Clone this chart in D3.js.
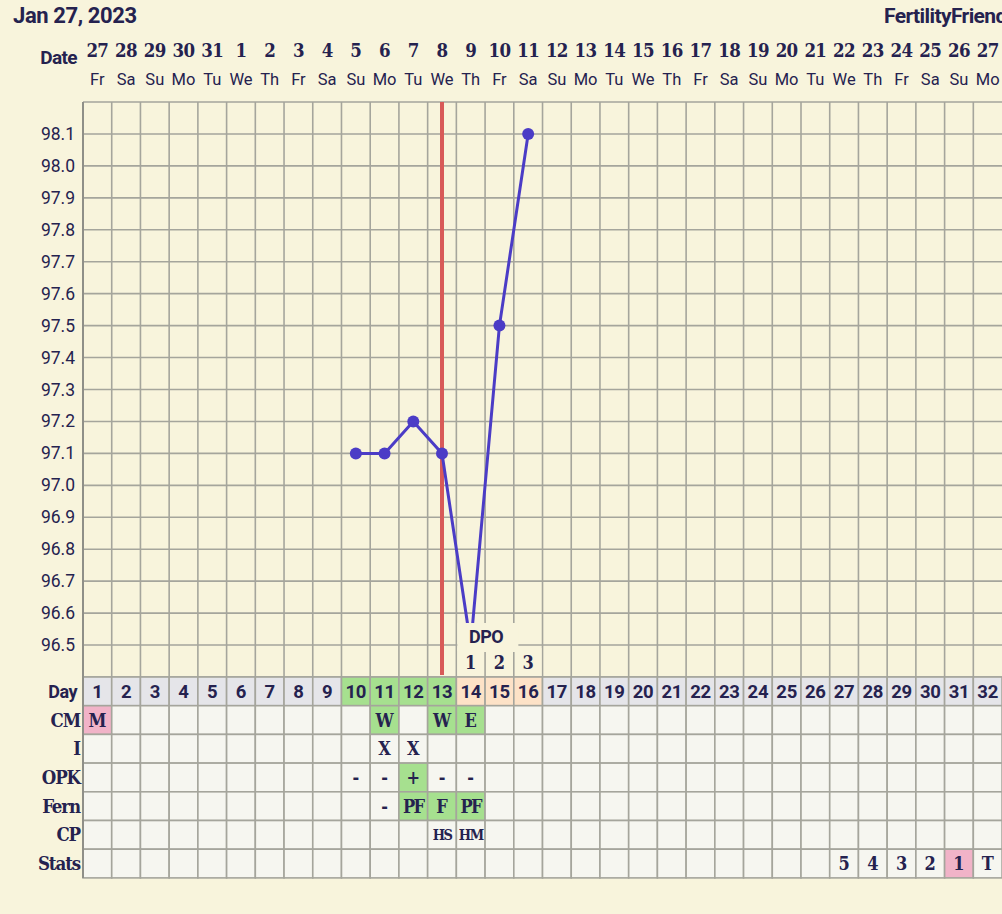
<!DOCTYPE html>
<html>
<head>
<meta charset="utf-8">
<script src="https://cdn.jsdelivr.net/npm/d3@7"></script>
<style>
  html, body { margin: 0; padding: 0; background: #f8f4dc; }
  svg { display: block; }
</style>
</head>
<body>
<svg id="chart" width="1002" height="914"></svg>
<script>
// chart data
const dateNums = [27,28,29,30,31,1,2,3,4,5,6,7,8,9,10,11,12,13,14,15,16,17,18,19,20,21,22,23,24,25,26,27];
const weekdays = ["Fr","Sa","Su","Mo","Tu","We","Th","Fr","Sa","Su","Mo","Tu","We","Th","Fr","Sa","Su","Mo","Tu","We","Th","Fr","Sa","Su","Mo","Tu","We","Th","Fr","Sa","Su","Mo"];
const cycleDays = [1,2,3,4,5,6,7,8,9,10,11,12,13,14,15,16,17,18,19,20,21,22,23,24,25,26,27,28,29,30,31,32];
const tempDays = [10,11,12,13,14,15,16];
const tempValues = [97.1,97.1,97.2,97.1,96.5,97.5,98.1];
const tempTicks = [96.5,96.6,96.7,96.8,96.9,97.0,97.1,97.2,97.3,97.4,97.5,97.6,97.7,97.8,97.9,98.0,98.1];
const tempLines = [96.4,96.5,96.6,96.7,96.8,96.9,97.0,97.1,97.2,97.3,97.4,97.5,97.6,97.7,97.8,97.9,98.0,98.1,98.2];
const ovulationDay = 13;
const fertileDays = [10,11,12,13];
const dpoDays = [14,15,16];
const dpoLabels = ["1","2","3"];
const rowNames = ["Day","CM","I","OPK","Fern","CP","Stats"];
// [row, day, text, highlight]
const cellEntries = [
  ["CM",1,"M","pink"],["CM",11,"W","green"],["CM",13,"W","green"],["CM",14,"E","green"],
  ["I",11,"X",null],["I",12,"X",null],
  ["OPK",10,"-",null],["OPK",11,"-",null],["OPK",12,"+","green"],["OPK",13,"-",null],["OPK",14,"-",null],
  ["Fern",11,"-",null],["Fern",12,"PF","green"],["Fern",13,"F","green"],["Fern",14,"PF","green"],
  ["CP",13,"HS",null],["CP",14,"HM",null],
  ["Stats",27,"5",null],["Stats",28,"4",null],["Stats",29,"3",null],["Stats",30,"2",null],["Stats",31,"1","pink"],["Stats",32,"T",null]
];

const ink = "#25224f";
const gridCol = "#a5a59c";
const sans = "Roboto, 'Noto Sans', sans-serif";
const slab = "'DejaVu Serif Condensed', 'DejaVu Serif', serif";
const fills = { green: "#a6e08f", pink: "#f1b3c8", peach: "#fde2c7", gray: "#e5e5e9", cell: "#f6f6f0" };

const svg = d3.select('#chart');
const plotLeft = 83, plotTop = 102, plotBottom = 677, rowH = 28.7;

var x = d3.scaleBand().domain(cycleDays).range([plotLeft, plotLeft + 32*28.72]);
var y = d3.scaleLinear().domain([96.4, 98.2]).range([plotBottom, plotTop]);
var r = d3.scaleBand().domain(rowNames).range([plotBottom, plotBottom + rowNames.length*rowH]);

// header
svg.append('text').text("Jan 27, 2023")
  .attr('x', 13).attr('y', 23).attr('font-family', sans).attr('font-weight', 700)
  .attr('font-size', 22).attr('fill', ink).attr('letter-spacing', -0.4);
svg.append('text').text("FertilityFriend.com")
  .attr('x', 884).attr('y', 23).attr('font-family', sans).attr('font-weight', 700)
  .attr('font-size', 21).attr('fill', ink).attr('letter-spacing', -0.6);
svg.append('text').text("Date")
  .attr('x', 77).attr('y', 64).attr('text-anchor', 'end').attr('font-family', sans).attr('font-weight', 700)
  .attr('font-size', 19).attr('fill', ink).attr('letter-spacing', -0.6);

svg.append('g').selectAll('text').data(cycleDays).enter().append('text')
  .text(function(d, i) { return dateNums[i]; })
  .attr('x', function(d) { return x(d) + x.bandwidth()/2; })
  .attr('y', 57).attr('text-anchor', 'middle').attr('font-family', slab).attr('font-weight', 700)
  .attr('font-size', 18.5).attr('fill', ink).attr('letter-spacing', -0.6);

svg.append('g').selectAll('text').data(cycleDays).enter().append('text')
  .text(function(d, i) { return weekdays[i]; })
  .attr('x', function(d) { return x(d) + x.bandwidth()/2; })
  .attr('y', 85).attr('text-anchor', 'middle').attr('font-family', sans)
  .attr('font-size', 16.5).attr('fill', ink);

// temperature grid
const grid = svg.append('g').attr('stroke', gridCol).attr('stroke-width', 1.6);
grid.selectAll('line.h').data(tempLines).enter().append('line')
  .attr('x1', plotLeft).attr('x2', 1002)
  .attr('y1', function(d) { return y(d); }).attr('y2', function(d) { return y(d); });
grid.selectAll('line.v').data(cycleDays).enter().append('line')
  .attr('x1', function(d) { return x(d); }).attr('x2', function(d) { return x(d); })
  .attr('y1', plotTop).attr('y2', plotBottom);

svg.append('g').selectAll('text').data(tempTicks).enter().append('text')
  .text(function(d) { return d.toFixed(1); })
  .attr('x', 75).attr('y', function(d) { return y(d) + 6; })
  .attr('text-anchor', 'end').attr('font-family', sans).attr('font-size', 17.5).attr('fill', ink);

// table rows
const table = svg.append('g');
rowNames.forEach(function(row) {
  table.selectAll(null).data(cycleDays).enter().append('rect')
    .attr('x', function(d) { return x(d); }).attr('y', r(row))
    .attr('width', x.bandwidth()).attr('height', r.bandwidth())
    .attr('fill', function(d) {
      if (row === "Day") {
        if (fertileDays.indexOf(d) >= 0) return fills.green;
        if (dpoDays.indexOf(d) >= 0) return fills.peach;
        return fills.gray;
      }
      const e = cellEntries.find(function(c) { return c[0] === row && c[1] === d; });
      return e && e[3] ? fills[e[3]] : fills.cell;
    })
    .attr('stroke', gridCol).attr('stroke-width', 1.6);
});

table.selectAll('text.day').data(cycleDays).enter().append('text')
  .text(function(d) { return d; })
  .attr('x', function(d) { return x(d) + x.bandwidth()/2; })
  .attr('y', r("Day") + r.bandwidth()/2 + 6.5)
  .attr('text-anchor', 'middle').attr('font-family', sans).attr('font-weight', 700)
  .attr('font-size', 18.5).attr('fill', ink).attr('letter-spacing', -0.3);

table.selectAll('text.cell').data(cellEntries).enter().append('text')
  .text(function(d) { return d[2]; })
  .attr('x', function(d) { return x(d[1]) + x.bandwidth()/2; })
  .attr('y', function(d) { return r(d[0]) + r.bandwidth()/2 + (d[0] === "CP" ? 5 : 6.5); })
  .attr('text-anchor', 'middle').attr('font-family', slab).attr('font-weight', 700)
  .attr('font-size', function(d) { return d[0] === "CP" ? 14.5 : 18; })
  .attr('letter-spacing', function(d) { return d[2].length > 1 ? -1.5 : 0; })
  .attr('fill', ink);

table.selectAll('text.lab').data(rowNames).enter().append('text')
  .text(function(d) { return d; })
  .attr('x', function(d) { return d === "Day" ? 77 : 80; })
  .attr('y', function(d) { return r(d) + r.bandwidth()/2 + 6.5; })
  .attr('text-anchor', 'end')
  .attr('font-family', function(d) { return d === "Day" ? sans : slab; })
  .attr('font-weight', 700).attr('font-size', function(d) { return d === "Day" ? 18 : 18.5; }).attr('fill', ink)
  .attr('letter-spacing', function(d) { return d === "Day" ? -0.5 : -1.1; });

// left axis line
svg.append('line').attr('x1', plotLeft).attr('x2', plotLeft).attr('y1', plotTop).attr('y2', r("Stats") + r.bandwidth())
  .attr('stroke', '#8f8f88').attr('stroke-width', 2);

// ovulation line
svg.append('line')
  .attr('x1', x(ovulationDay) + x.bandwidth()/2).attr('x2', x(ovulationDay) + x.bandwidth()/2)
  .attr('y1', plotTop).attr('y2', plotBottom - 2)
  .attr('stroke', '#d85a58').attr('stroke-width', 4);

// temperature line
const tempPts = tempDays.map(function(d, i) { return [x(d) + x.bandwidth()/2, y(tempValues[i])]; });
svg.append('path').attr('d', d3.line()(tempPts))
  .attr('fill', 'none').attr('stroke', '#4b3cc6').attr('stroke-width', 3);
svg.append('g').selectAll('circle').data(tempPts).enter().append('circle')
  .attr('cx', function(d) { return d[0]; }).attr('cy', function(d) { return d[1]; })
  .attr('r', 6).attr('fill', '#4b3cc6');

// DPO label box
const dpoX0 = x(dpoDays[0]) + 1;
const dpoX1 = x(dpoDays[dpoDays.length-1]) + x.bandwidth() - 1;
svg.append('rect').attr('x', dpoX0).attr('y', 623).attr('width', 61).attr('height', 28).attr('fill', '#f8f4dc');
svg.append('rect').attr('x', dpoX0).attr('y', 648).attr('width', dpoX1 - dpoX0).attr('height', plotBottom - 649).attr('fill', '#f8f4dc');
svg.append('g').selectAll('line').data(dpoDays.slice(1)).enter().append('line')
  .attr('x1', function(d) { return x(d); }).attr('x2', function(d) { return x(d); })
  .attr('y1', 652).attr('y2', plotBottom)
  .attr('stroke', gridCol).attr('stroke-width', 1.6);
svg.append('text').text("DPO")
  .attr('x', x(dpoDays[1]) + 1).attr('y', 643).attr('text-anchor', 'middle')
  .attr('font-family', sans).attr('font-weight', 700).attr('font-size', 18).attr('fill', ink).attr('letter-spacing', -0.5);
svg.append('g').selectAll('text').data(dpoDays).enter().append('text')
  .text(function(d, i) { return dpoLabels[i]; })
  .attr('x', function(d) { return x(d) + x.bandwidth()/2; }).attr('y', 669)
  .attr('text-anchor', 'middle').attr('font-family', slab).attr('font-weight', 700)
  .attr('font-size', 18).attr('fill', ink);
</script>
</body>
</html>
